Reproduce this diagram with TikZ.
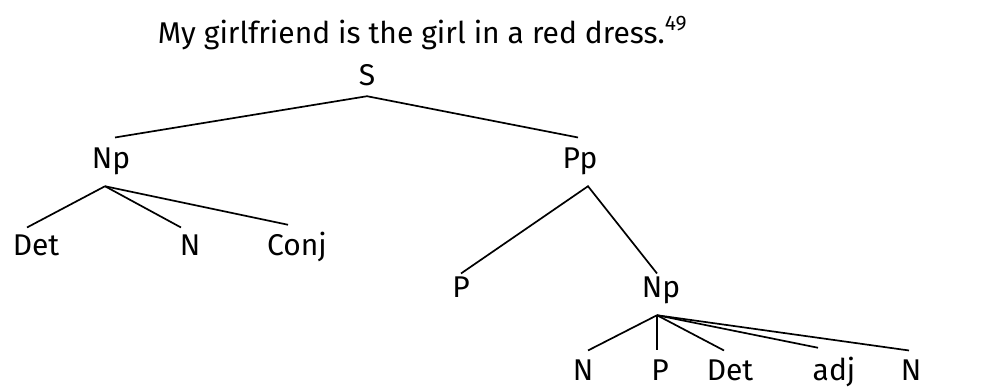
\documentclass[tikz,border=0pt]{standalone}
\usepackage{fontspec}
\setmainfont{Fira Sans}
\begin{document}
\begin{tikzpicture}[x=1pt, y=-1pt, line width=1.7pt,
    every node/.style={inner sep=10pt, font=\fontsize{30}{36}\selectfont}]
    \useasboundingbox (0,0) rectangle (987,388);
    \node[anchor=base west, inner sep=0pt] (title) at (157,43) {My girlfriend is the girl in a red dress.\textsuperscript{\raisebox{3pt}{49}}};
    % top levels
    \node[anchor=base] (s) at (367,85) {S};
    \node[anchor=base] (np1) at (111,168) {Np};
    \node[anchor=base] (pp) at (580,168) {Pp};
    \foreach \name/\x/\txt in {det1/36/Det, n1/190/N, conj/297/Conj} {
        \node[anchor=base] (\name) at (\x,255) {\txt};
    }
    \node[anchor=base] (p1) at (461,297) {P};
    \node[anchor=base] (np2) at (661,297) {Np};
    \foreach \name/\x/\txt in {n2/583/N, p2/660/P, det2/730/Det, adj/834/adj, n3/911/N} {
        \node[anchor=base] (\name) at (\x,380) {\txt};
    }
    \draw ([xshift=4pt, yshift=-1pt]np1.north) -- (s.south) -- ([xshift=-2pt, yshift=-1pt]pp.north);
    \foreach \c in {det1, n1, conj}
        \draw ([xshift=-6pt, yshift=-1pt]np1.south) -- ([xshift=-9pt, yshift=-4pt]\c.north);
    \draw ([yshift=-8pt]p1.north) -- ([xshift=8pt, yshift=-1pt]pp.south) -- ([xshift=-4pt, yshift=-8pt]np2.north);
    \foreach \c/\dx in {n2/5, p2/-3, det2/-6, adj/-16, n3/-2}
        \draw ([xshift=-4pt, yshift=-1pt]np2.south) -- ([xshift=\dx pt, yshift=-2pt]\c.north);
\end{tikzpicture}
\end{document}
